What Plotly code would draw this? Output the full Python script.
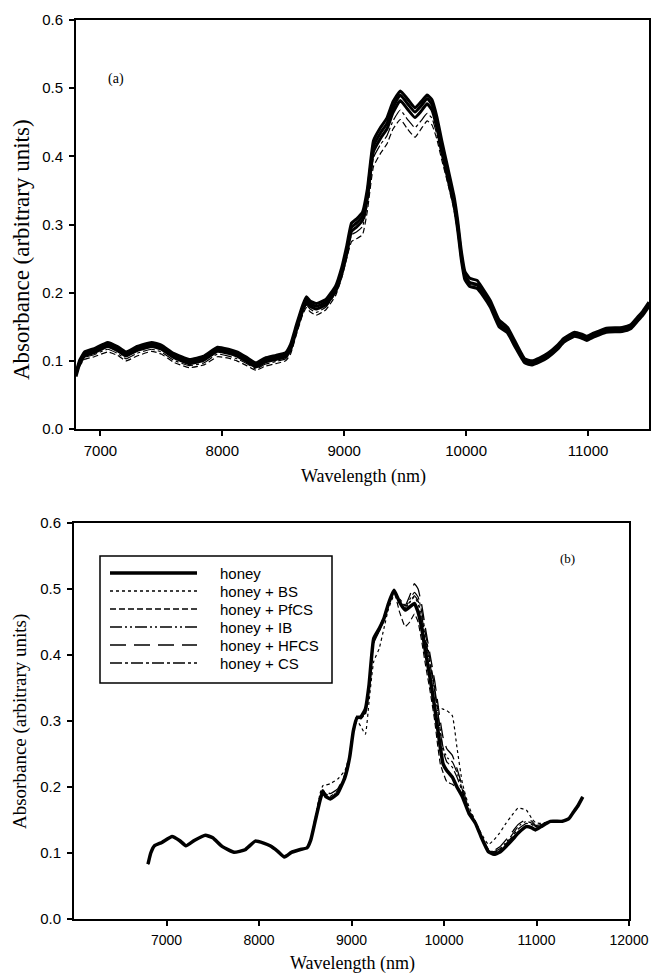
import plotly.graph_objects as go

# ---------------- data ----------------
wavelength = [6800, 6830, 6870, 6950, 7060, 7140, 7210, 7300, 7420, 7500,
              7600, 7730, 7850, 7960, 8050, 8120, 8200, 8275, 8350, 8440,
              8520, 8560, 8610, 8660, 8690, 8720, 8770, 8850, 8930, 8980,
              9020, 9060, 9100, 9150, 9190, 9240, 9300, 9350, 9400, 9460,
              9520, 9580, 9630, 9680, 9720, 9760, 9800, 9850, 9900, 9930,
              9960, 9990, 10030, 10090, 10140, 10200, 10270, 10340, 10400, 10480,
              10540, 10600, 10670, 10750, 10800, 10890, 10950, 10990, 11050, 11150,
              11280, 11350, 11400, 11450, 11500]

# panel (a): honey samples
a_honey_1 = [0.083, 0.101, 0.113, 0.118, 0.127, 0.121, 0.113, 0.121, 0.127, 0.123,
             0.111, 0.102, 0.107, 0.120, 0.117, 0.113, 0.105, 0.097, 0.104, 0.108,
             0.112, 0.124, 0.154, 0.182, 0.194, 0.188, 0.184, 0.190, 0.210, 0.237,
             0.268, 0.302, 0.308, 0.318, 0.352, 0.423, 0.443, 0.456, 0.480, 0.496,
             0.484, 0.471, 0.480, 0.490, 0.483, 0.458, 0.423, 0.383, 0.342, 0.307,
             0.262, 0.231, 0.221, 0.218, 0.205, 0.188, 0.160, 0.149, 0.129, 0.103,
             0.100, 0.104, 0.111, 0.123, 0.133, 0.142, 0.139, 0.136, 0.141, 0.148,
             0.149, 0.153, 0.163, 0.173, 0.186]
a_honey_2 = [0.080, 0.098, 0.110, 0.115, 0.124, 0.118, 0.110, 0.118, 0.124, 0.120,
             0.108, 0.099, 0.104, 0.117, 0.114, 0.110, 0.102, 0.094, 0.101, 0.105,
             0.109, 0.120, 0.150, 0.178, 0.190, 0.184, 0.180, 0.186, 0.206, 0.232,
             0.262, 0.296, 0.302, 0.312, 0.345, 0.415, 0.435, 0.448, 0.472, 0.490,
             0.477, 0.465, 0.474, 0.485, 0.476, 0.450, 0.415, 0.375, 0.335, 0.300,
             0.255, 0.225, 0.215, 0.212, 0.200, 0.183, 0.155, 0.145, 0.125, 0.100,
             0.097, 0.101, 0.108, 0.120, 0.130, 0.139, 0.136, 0.133, 0.138, 0.145,
             0.146, 0.150, 0.160, 0.170, 0.183]
a_honey_3 = [0.077, 0.095, 0.107, 0.112, 0.121, 0.115, 0.107, 0.115, 0.121, 0.117,
             0.105, 0.096, 0.101, 0.114, 0.111, 0.107, 0.099, 0.091, 0.098, 0.102,
             0.106, 0.116, 0.146, 0.174, 0.186, 0.180, 0.176, 0.182, 0.202, 0.227,
             0.256, 0.290, 0.296, 0.306, 0.338, 0.407, 0.427, 0.440, 0.464, 0.482,
             0.469, 0.457, 0.466, 0.477, 0.468, 0.442, 0.407, 0.367, 0.328, 0.293,
             0.249, 0.219, 0.209, 0.206, 0.195, 0.178, 0.150, 0.141, 0.121, 0.097,
             0.094, 0.098, 0.105, 0.117, 0.127, 0.136, 0.133, 0.130, 0.135, 0.142,
             0.143, 0.147, 0.157, 0.167, 0.180]
a_honey_4 = [0.078, 0.092, 0.102, 0.106, 0.113, 0.108, 0.100, 0.107, 0.114, 0.110,
             0.098, 0.090, 0.094, 0.106, 0.104, 0.100, 0.093, 0.086, 0.092, 0.096,
             0.100, 0.110, 0.140, 0.168, 0.178, 0.172, 0.167, 0.175, 0.196, 0.222,
             0.250, 0.275, 0.279, 0.285, 0.320, 0.385, 0.405, 0.418, 0.440, 0.454,
             0.440, 0.428, 0.440, 0.452, 0.446, 0.425, 0.395, 0.360, 0.322, 0.290,
             0.248, 0.220, 0.210, 0.208, 0.197, 0.180, 0.152, 0.142, 0.122, 0.098,
             0.095, 0.099, 0.106, 0.117, 0.127, 0.135, 0.133, 0.130, 0.135, 0.142,
             0.143, 0.147, 0.157, 0.167, 0.180]
a_honey_5 = [0.079, 0.094, 0.105, 0.109, 0.117, 0.111, 0.103, 0.111, 0.117, 0.113,
             0.101, 0.093, 0.097, 0.110, 0.107, 0.103, 0.096, 0.088, 0.095, 0.099,
             0.103, 0.114, 0.144, 0.172, 0.182, 0.176, 0.171, 0.179, 0.200, 0.226,
             0.255, 0.285, 0.289, 0.297, 0.330, 0.398, 0.418, 0.430, 0.452, 0.468,
             0.454, 0.442, 0.452, 0.463, 0.456, 0.432, 0.402, 0.365, 0.327, 0.294,
             0.251, 0.222, 0.212, 0.210, 0.198, 0.181, 0.153, 0.143, 0.123, 0.099,
             0.096, 0.100, 0.107, 0.118, 0.128, 0.136, 0.134, 0.131, 0.136, 0.143,
             0.144, 0.148, 0.158, 0.168, 0.181]

# panel (b): all spectra coincide below 8560 nm
b_shared = [0.083, 0.100, 0.111, 0.116, 0.125, 0.119, 0.111, 0.119, 0.127, 0.123,
            0.110, 0.101, 0.105, 0.118, 0.115, 0.111, 0.103, 0.094, 0.101, 0.105,
            0.108]
b_honey_tail = [0.120, 0.150, 0.180, 0.193, 0.186, 0.182, 0.190, 0.215, 0.245, 0.285,
                0.305, 0.306, 0.318, 0.355, 0.425, 0.440, 0.455, 0.478, 0.498, 0.480,
                0.468, 0.473, 0.478, 0.465, 0.440, 0.405, 0.365, 0.320, 0.290, 0.260,
                0.235, 0.225, 0.215, 0.200, 0.185, 0.160, 0.145, 0.125, 0.102, 0.098,
                0.101, 0.110, 0.122, 0.130, 0.140, 0.138, 0.135, 0.140, 0.148, 0.148,
                0.152, 0.162, 0.172, 0.185]
b_bs_tail = [0.122, 0.155, 0.190, 0.202, 0.203, 0.205, 0.212, 0.225, 0.250, 0.285,
             0.300, 0.292, 0.280, 0.330, 0.390, 0.410, 0.440, 0.470, 0.490, 0.485,
             0.475, 0.480, 0.488, 0.478, 0.450, 0.420, 0.385, 0.345, 0.322, 0.320,
             0.318, 0.316, 0.308, 0.260, 0.205, 0.170, 0.148, 0.130, 0.113, 0.120,
             0.130, 0.145, 0.160, 0.168, 0.165, 0.152, 0.146, 0.145, 0.148, 0.148,
             0.152, 0.162, 0.172, 0.185]
b_pfcs_tail = [0.120, 0.150, 0.182, 0.190, 0.184, 0.181, 0.190, 0.214, 0.245, 0.285,
               0.302, 0.305, 0.315, 0.355, 0.425, 0.442, 0.458, 0.480, 0.495, 0.465,
               0.443, 0.450, 0.462, 0.450, 0.420, 0.385, 0.345, 0.300, 0.265, 0.235,
               0.222, 0.208, 0.204, 0.198, 0.185, 0.160, 0.145, 0.125, 0.103, 0.100,
               0.103, 0.112, 0.124, 0.132, 0.141, 0.139, 0.136, 0.141, 0.148, 0.148,
               0.152, 0.162, 0.172, 0.185]
b_ib_tail = [0.121, 0.151, 0.183, 0.195, 0.189, 0.185, 0.193, 0.217, 0.247, 0.287,
             0.307, 0.303, 0.312, 0.350, 0.420, 0.437, 0.452, 0.476, 0.496, 0.478,
             0.470, 0.480, 0.490, 0.482, 0.458, 0.425, 0.385, 0.345, 0.315, 0.285,
             0.260, 0.245, 0.238, 0.222, 0.195, 0.162, 0.146, 0.126, 0.105, 0.102,
             0.106, 0.116, 0.130, 0.140, 0.148, 0.145, 0.140, 0.142, 0.149, 0.148,
             0.152, 0.162, 0.172, 0.185]
b_hfcs_tail = [0.121, 0.152, 0.186, 0.197, 0.193, 0.190, 0.197, 0.220, 0.250, 0.288,
               0.306, 0.304, 0.310, 0.348, 0.418, 0.436, 0.452, 0.476, 0.497, 0.482,
               0.475, 0.490, 0.508, 0.500, 0.475, 0.440, 0.400, 0.360, 0.330, 0.300,
               0.275, 0.258, 0.248, 0.228, 0.200, 0.165, 0.147, 0.127, 0.106, 0.104,
               0.109, 0.120, 0.134, 0.143, 0.151, 0.148, 0.142, 0.143, 0.149, 0.148,
               0.152, 0.162, 0.172, 0.185]
b_cs_tail = [0.120, 0.150, 0.184, 0.196, 0.190, 0.186, 0.194, 0.218, 0.248, 0.288,
             0.308, 0.305, 0.313, 0.352, 0.422, 0.438, 0.453, 0.477, 0.496, 0.480,
             0.472, 0.484, 0.495, 0.488, 0.465, 0.432, 0.392, 0.350, 0.318, 0.285,
             0.255, 0.238, 0.230, 0.215, 0.192, 0.162, 0.146, 0.126, 0.104, 0.101,
             0.105, 0.114, 0.127, 0.136, 0.145, 0.143, 0.139, 0.141, 0.148, 0.148,
             0.152, 0.162, 0.172, 0.185]

series_names = ["honey", "honey + BS", "honey + PfCS", "honey + IB", "honey + HFCS", "honey + CS"]
series_tails = [b_honey_tail, b_bs_tail, b_pfcs_tail, b_ib_tail, b_hfcs_tail, b_cs_tail]

y_ticks = [0.0, 0.1, 0.2, 0.3, 0.4, 0.5, 0.6]
y_tick_text = ["0.0", "0.1", "0.2", "0.3", "0.4", "0.5", "0.6"]
x_ticks_a = [7000, 8000, 9000, 10000, 11000]
x_ticks_b = [7000, 8000, 9000, 10000, 11000, 12000]

# ---------------- styles ----------------
W, H = 651, 977
def px(x):
    return x / W
def py(y):
    return 1 - y / H

dash_styles = ["solid", "dot", "6px,3px", "12px,3px,2px,3px,2px,3px", "16px,8px", "12px,3px,3px,3px"]
widths = [3.5, 1.2, 1.2, 1.2, 1.3, 1.2]

SANS = "Liberation Sans, Arial, sans-serif"
SERIF = "Liberation Serif, Times New Roman, serif"
TICKFONT = dict(family=SANS, size=15, color="black")
TICKFONT_B = dict(family=SANS, size=14, color="black")

fig = go.Figure()

# panel (a)
for ys, dash, w in [(a_honey_4, "6px,3px", 1.2), (a_honey_5, "12px,3px,3px,3px", 1.2),
                    (a_honey_3, "solid", 3), (a_honey_2, "solid", 3), (a_honey_1, "solid", 3)]:
    fig.add_trace(go.Scatter(x=wavelength, y=ys, mode="lines", xaxis="x", yaxis="y",
                             line=dict(color="black", width=w, dash=dash, shape="spline", smoothing=0.4),
                             showlegend=False, hoverinfo="skip"))

# panel (b)
for name, tail, dash, w in list(zip(series_names, series_tails, dash_styles, widths))[::-1]:
    fig.add_trace(go.Scatter(x=wavelength, y=b_shared + tail, mode="lines", name=name,
                             xaxis="x2", yaxis="y2",
                             line=dict(color="black", width=w, dash=dash, shape="spline", smoothing=0.4),
                             showlegend=False))

axis_common = dict(showline=True, linecolor="black", linewidth=2, mirror=True,
                   ticks="outside", ticklen=5, tickwidth=1.5, tickcolor="black",
                   showgrid=False, zeroline=False, automargin=False)

fig.update_layout(
    width=W, height=H,
    margin=dict(l=0, r=0, t=0, b=0),
    paper_bgcolor="white", plot_bgcolor="white",
    showlegend=False,
    xaxis=dict(domain=[px(76), px(649)], range=[6800, 11500], tickvals=x_ticks_a,
               ticktext=[str(v) for v in x_ticks_a], anchor="y", ticklabelstandoff=2,
               tickfont=TICKFONT, **axis_common),
    yaxis=dict(domain=[py(429), py(20)], range=[0, 0.6], tickvals=y_ticks, ticktext=y_tick_text,
               anchor="x", ticklabelstandoff=3, tickfont=TICKFONT, **axis_common),
    xaxis2=dict(domain=[px(74), px(629)], range=[6000, 12000], tickvals=x_ticks_b,
                ticktext=[str(v) for v in x_ticks_b], anchor="y2", ticklabelstandoff=2,
                tickfont=TICKFONT_B, **axis_common),
    yaxis2=dict(domain=[py(919), py(523)], range=[0, 0.6], tickvals=y_ticks, ticktext=y_tick_text,
                anchor="x2", ticklabelstandoff=3, tickfont=TICKFONT, **axis_common),
)

def label(text, x, y, size, family=SERIF, angle=0, xanchor="center"):
    return dict(text=text, x=px(x), y=py(y), xref="paper", yref="paper", textangle=angle,
                xanchor=xanchor, yanchor="middle", showarrow=False,
                font=dict(family=family, size=size, color="black"))

ann = [
    label("Absorbance (arbitrary units)", 21, 250, 23, angle=-90),
    label("Wavelength (nm)", 364, 476, 18),
    label("Absorbance (arbitrary units)", 20, 722, 19, angle=-90),
    label("Wavelength (nm)", 352, 963, 18),
    label("(a)", 116, 79, 14),
    label("(b)", 567, 558, 13),
]

shapes = [dict(type="rect", xref="paper", yref="paper", x0=px(100), x1=px(332), y0=py(683), y1=py(556),
               line=dict(color="black", width=1.5), fillcolor="white", layer="above")]
row_y = [573, 591, 609, 627, 645, 663]
for name, dash, w, ry in zip(series_names, dash_styles, widths, row_y):
    shapes.append(dict(type="line", xref="paper", yref="paper", x0=px(110), x1=px(197),
                       y0=py(ry), y1=py(ry), line=dict(color="black", width=w if w > 2 else 1.3, dash=dash),
                       layer="above"))
    ann.append(label(name, 218, ry, 15, family=SANS, xanchor="left"))

fig.update_layout(annotations=ann, shapes=shapes)
fig.write_html("out.html", config={"displayModeBar": False},
               post_script="document.body.style.margin='0';document.body.style.overflow='hidden';")
